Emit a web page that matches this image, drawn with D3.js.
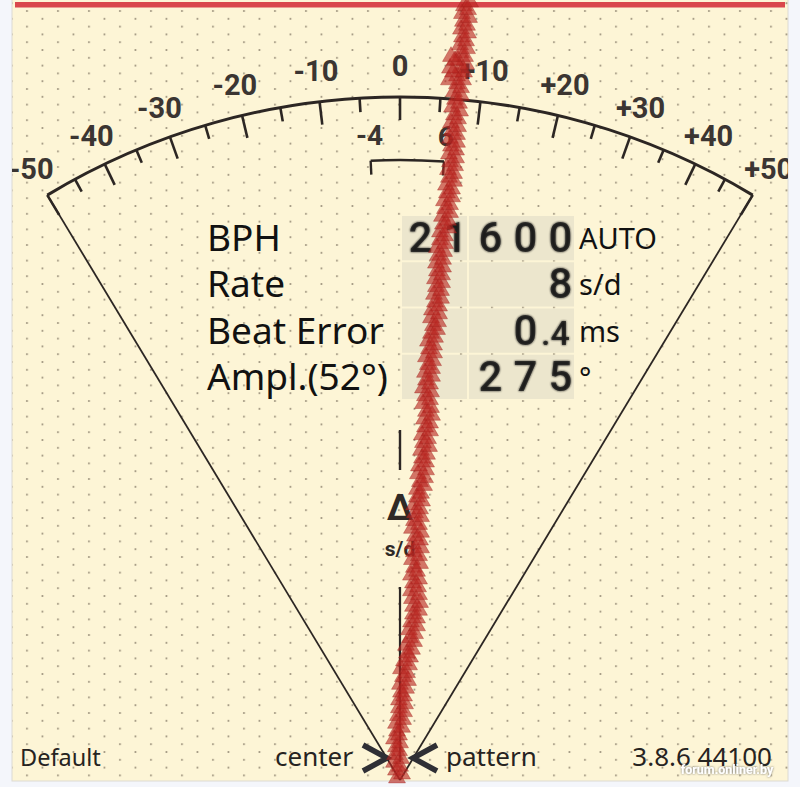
<!DOCTYPE html>
<html><head><meta charset="utf-8">
<script src="https://cdn.jsdelivr.net/npm/d3@7"></script>
<style>
html,body{margin:0;padding:0;background:#f4f6fb;}
svg{display:block;}
</style></head><body>
<svg id="c" width="800" height="787"></svg>
<script>
// ---------- data ----------
const majorTicks = [-50,-40,-30,-20,-10,0,10,20,30,40,50];
const majorLabels = ["-50","-40","-30","-20","-10","0","+10","+20","+30","+40","+50"];
const minorTicks = [-45,-35,-25,-15,-5,5,15,25,35,45];
const rateRange = [-4, 6];
const rateRangeLabels = ["-4","6"];
const readoutLabels = ["BPH","Rate","Beat Error","Ampl.(52°)"];
const readoutValues = ["21600","8","0.4","275"];
const readoutUnits = ["AUTO","s/d","ms","°"];
const footerLeft = "Default";
const footerCenterL = "center";
const footerCenterR = "pattern";
const footerRight = "3.8.6 44100";
// beat trace: phase offset (ms), one sample per row, bottom to top
const tickOffsets = [-0.3,-0.4,-0.6,-0.5,-0.4,-0.6,-0.3,-0.4,-0.2,-0.1,
 -0.1,0.1,0,0.3,0.1,0.4,0.7,0.6,1.0,0.9,
 1.1,1.3,1.3,1.2,1.1,1.3,1.1,1.4,1.2,1.4,
 1.3,1.5,1.2,1.4,1.5,1.4,1.7,1.7,2.0,1.8,
 1.9,2.2,2.1,2.3,2.2,2.5,2.4,2.6,2.3,2.5,
 2.3,2.6,2.5,2.8,2.6,2.9,2.8,3.1,3.3,3.1,
 3.2,3.5,3.4,3.6,3.5,3.7,3.6,3.8,3.7,4.0,
 4.0,4.3,4.2,4.5,4.4,4.7,4.6,4.9,4.8,5.0,
 4.9,5.1,5.0,5.2,5.1,5.4,5.2,5.5,5.4,5.7,
 5.7,6.0,5.8,6.1,6.0,6.2,6.1,6.3,6.2,6.4];
const tockOffsets = [0.2,0,0.1,-0.1,0,-0.1,0.2,0.3,0.4,0.5,
 0.4,0.6,0.8,0.7,0.9,1.0,1.2,1.4,1.5,1.7,
 1.7,1.9,2.0,1.9,1.8,1.9,1.7,2.0,1.9,2.1,
 2.0,2.1,1.9,2.1,2.0,2.2,2.1,2.4,2.5,2.6,
 2.6,2.7,2.9,2.8,3.0,3.0,3.2,3.1,3.0,3.1,
 3.0,3.2,3.2,3.3,3.4,3.4,3.5,3.7,3.8,3.9,
 3.9,4.1,4.1,4.2,4.2,4.3,4.3,4.4,4.5,4.5,
 4.8,4.8,5.0,5.0,5.2,5.2,5.4,5.4,5.5,5.6,
 5.6,5.7,5.7,5.8,5.8,6.0,5.9,6.1,6.1,6.3,
 6.4,6.6,6.5,6.7,6.6,6.8,6.7,6.9,6.8,7.0];
const strayIdx = [89.5, 90.5, 91, 92, 92.5];
const strayOffsets = [4.9, 5.3, 5.0, 5.5, 5.1];

// ---------- setup ----------
const svg = d3.select("#c");
const CX = 400, CY = 780, R = 683;
const ink = "#2c2623";

const defs = svg.append("defs");
const pat = defs.append("pattern").attr("id","dots").attr("patternUnits","userSpaceOnUse")
  .attr("x",19.25).attr("y",7.1).attr("width",31).attr("height",15.6);
pat.append("circle").attr("cx",7.75).attr("cy",3.9).attr("r",0.95).attr("fill","#8f8571");
pat.append("circle").attr("cx",23.25).attr("cy",11.7).attr("r",0.95).attr("fill","#8f8571");
defs.append("clipPath").attr("id","canvasClip").append("rect")
  .attr("x",12).attr("y",0).attr("width",776).attr("height",781);
const blur = defs.append("filter").attr("id","soft").attr("x","-20%").attr("y","-20%").attr("width","140%").attr("height","140%");
blur.append("feGaussianBlur").attr("stdDeviation",0.9);
const sh = defs.append("filter").attr("id","wm");
sh.append("feDropShadow").attr("dx",0).attr("dy",0).attr("stdDeviation",1.2).attr("flood-color","#555").attr("flood-opacity",0.9);

// canvas
svg.append("rect").attr("x",12).attr("y",-1).attr("width",776).attr("height",782)
  .attr("fill","#fdf5d6").attr("stroke","#dcdad3").attr("stroke-width",1);
svg.append("rect").attr("x",12).attr("y",0).attr("width",776).attr("height",781).attr("fill","url(#dots)");
svg.append("rect").attr("x",15).attr("y",2).attr("width",770).attr("height",5.5).attr("fill","#d9474c");

// ---------- dial ----------
const rateNorm = d3.scaleLinear().domain([-50,50]).range([-50/92, 50/92]);
const ang = v => 1.09 * Math.atan(rateNorm(v));
const pt = (v, r) => [CX + r*Math.sin(ang(v)), CY - r*Math.cos(ang(v))];

const dial = svg.append("g").attr("clip-path","url(#canvasClip)");
const p = d3.path();
p.arc(CX, CY, R, -Math.PI/2 + ang(-50), -Math.PI/2 + ang(50));
dial.append("path").attr("d", p.toString()).attr("fill","none").attr("stroke",ink).attr("stroke-width",3);
[-50,50].forEach(v => {
  const e = pt(v, R);
  dial.append("line").attr("x1",CX).attr("y1",CY).attr("x2",e[0]).attr("y2",e[1])
    .attr("stroke",ink).attr("stroke-width",1.8);
});
dial.selectAll("line.maj").data(majorTicks).join("line").attr("class","maj")
  .attr("x1",d=>pt(d,R)[0]).attr("y1",d=>pt(d,R)[1])
  .attr("x2",d=>pt(d,R-23)[0]).attr("y2",d=>pt(d,R-23)[1])
  .attr("stroke",ink).attr("stroke-width",2.6);
dial.selectAll("line.min").data(minorTicks).join("line").attr("class","min")
  .attr("x1",d=>pt(d,R)[0]).attr("y1",d=>pt(d,R)[1])
  .attr("x2",d=>pt(d,R-14)[0]).attr("y2",d=>pt(d,R-14)[1])
  .attr("stroke",ink).attr("stroke-width",2.6);
dial.selectAll("text.lab").data(majorTicks).join("text").attr("class","lab")
  .attr("x",d=>pt(d,714)[0]).attr("y",d=>pt(d,714)[1])
  .attr("text-anchor","middle").attr("dominant-baseline","central")
  .attr("font-family","Roboto").attr("font-weight",700).attr("font-size",29)
  .attr("fill","#3b3532").text((d,i)=>majorLabels[i]);

// range bracket
const p2 = d3.path();
p2.arc(CX, CY, 620, -Math.PI/2 + ang(rateRange[0]), -Math.PI/2 + ang(rateRange[1]));
dial.append("path").attr("d", p2.toString()).attr("fill","none").attr("stroke",ink).attr("stroke-width",2.4);
rateRange.forEach((v,i) => {
  const a = pt(v,620), b = pt(v,606), c = pt(v,645);
  dial.append("line").attr("x1",a[0]).attr("y1",a[1]).attr("x2",b[0]).attr("y2",b[1])
    .attr("stroke",ink).attr("stroke-width",2.4);
  dial.append("text").attr("x",c[0]).attr("y",c[1]).attr("text-anchor","middle")
    .attr("dominant-baseline","central").attr("font-family","Roboto").attr("font-weight",700)
    .attr("font-size",28).attr("fill","#3b3532").text(rateRangeLabels[i]);
});

// centre marks
svg.append("line").attr("x1",CX).attr("x2",CX).attr("y1",430).attr("y2",470).attr("stroke",ink).attr("stroke-width",2.4);
svg.append("line").attr("x1",CX).attr("x2",CX).attr("y1",587).attr("y2",762).attr("stroke",ink).attr("stroke-width",2.2);
svg.append("text").attr("x",CX).attr("y",520).attr("text-anchor","middle").attr("font-family","Roboto")
  .attr("font-weight",700).attr("font-size",36).attr("fill","#2f2a27").text("Δ");
svg.append("text").attr("x",CX).attr("y",556).attr("text-anchor","middle").attr("font-family","Roboto")
  .attr("font-weight",700).attr("font-size",21).attr("fill","#2f2a27").text("s/d");

// ---------- readout ----------
const rowScale = d3.scaleBand().domain(readoutLabels).range([215, 400]);
const cellScale = d3.scaleBand().domain([0,1,2,3,4]).range([403, 578]);
const ro = svg.append("g");
readoutLabels.forEach((lab,i) => {
  const top = rowScale(lab), base = top + 36;
  ro.append("rect").attr("x",402).attr("y",top+1).attr("width",65).attr("height",rowScale.bandwidth()-2).attr("fill","#ece6cd");
  ro.append("rect").attr("x",469).attr("y",top+1).attr("width",105).attr("height",rowScale.bandwidth()-2).attr("fill","#ece6cd");
  ro.append("text").attr("x",207).attr("y",base).attr("font-family","Noto Sans").attr("font-size",37)
    .attr("fill","#111").text(lab);
  ro.append("text").attr("x",579).attr("y",base-2).attr("font-family","Noto Sans").attr("font-size",29)
    .attr("fill","#111").text(readoutUnits[i]);
  const val = readoutValues[i];
  let cells = [];
  if (val.includes(".")) {
    const [a,b] = val.split(".");
    cells = a.split("").map(ch=>({t:ch,big:true}));
    cells.push({t:"."+b,big:false});
  } else cells = val.split("").map(ch=>({t:ch,big:true}));
  const start = 5 - cells.length;
  cells.forEach((c,k) => {
    const x = c.big ? cellScale(start+k) + cellScale.bandwidth()/2 : cellScale(start+k) - 2;
    [true,false].forEach(bl => {
      ro.append("text").attr("x",x).attr("y",base+1).attr("text-anchor", c.big ? "middle" : "start")
        .attr("font-family","Roboto").attr("font-weight",500)
        .attr("font-size",c.big?42:34).attr("fill","#161616")
        .attr("filter", bl ? "url(#soft)" : null).attr("opacity", bl?0.9:0.75)
        .text(c.t);
    });
  });
});

// ---------- footer ----------
const ft = svg.append("g").attr("font-family","Noto Sans").attr("font-size",26).attr("fill","#262321");
ft.append("text").attr("x",20).attr("y",766).attr("font-size",23.5).text(footerLeft);
ft.append("text").attr("x",353).attr("y",766).attr("text-anchor","end").text(footerCenterL);
ft.append("text").attr("x",446).attr("y",766).text(footerCenterR);
ft.append("text").attr("x",772).attr("y",766).attr("text-anchor","end").text(footerRight);
svg.append("path").attr("d","M363,745 L387,758 L363,771").attr("fill","none").attr("stroke","#2f2f35").attr("stroke-width",5.5);
svg.append("path").attr("d","M437,745 L413,758 L437,771").attr("fill","none").attr("stroke","#2f2f35").attr("stroke-width",5.5);

// ---------- trace ----------
const phaseX = d3.scaleLinear().domain([-40, 40]).range([0, 800]);
const timeY = d3.scaleLinear().domain([0, 99]).range([778, 5.8]);
const tri = d3.symbol().type(d3.symbolTriangle).size(125)();
const tr = svg.append("g");
function drawSeries(idx, vals, shift) {
  tr.selectAll(null).data(vals).join("path")
    .attr("d", tri)
    .attr("transform", (d,i) => `translate(${phaseX(d)},${timeY(idx[i] + shift)})`)
    .attr("fill","#b92622").attr("fill-opacity",0.62)
    .attr("stroke","#9c1a18").attr("stroke-opacity",0.5).attr("stroke-width",0.7);
}
drawSeries(tickOffsets.map((d,i)=>i), tickOffsets, 0);
drawSeries(tockOffsets.map((d,i)=>i), tockOffsets, 0.5);
drawSeries(strayIdx, strayOffsets, 0);

// watermark
svg.append("text").attr("x",727).attr("y",774).attr("text-anchor","middle").attr("font-family","Roboto")
  .attr("font-weight",700).attr("font-size",12.5).attr("fill","#ffffff").attr("filter","url(#wm)").text("forum.onliner.by");
</script>
</body></html>
